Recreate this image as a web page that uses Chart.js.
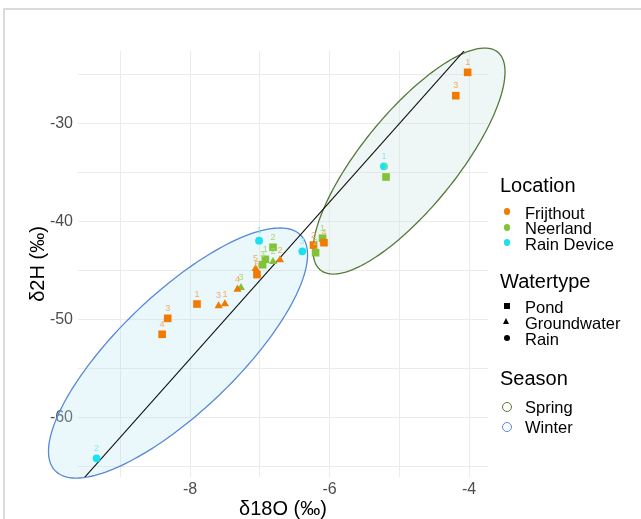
<!DOCTYPE html>
<html>
<head>
<meta charset="utf-8">
<script src="https://cdn.jsdelivr.net/npm/chart.js@4.4.1/dist/chart.umd.min.js"></script>
<style>
  html, body { margin: 0; padding: 0; background: #fff; }
  #wrap { position: relative; width: 641px; height: 519px; overflow: hidden; font-family: "Liberation Sans", Arial, sans-serif; }
  #frame { position: absolute; left: 3px; top: 8px; width: 700px; height: 600px; border-top: 2px solid #dadada; border-left: 2px solid #dadada; }
  #chart { position: absolute; left: 0; top: 0; }
  .lg { position: absolute; white-space: nowrap; color: #000; }
  .lg-title { font-size: 20px; line-height: 20px; left: 500px; }
  .lg-item { font-size: 16.5px; line-height: 16px; left: 525px; }
  .key { position: absolute; box-sizing: border-box; }
</style>
</head>
<body>
<div id="wrap">
  <div id="frame"></div>
  <canvas id="chart" width="641" height="519"></canvas>
  <div id="legend"></div>
</div>
<script>
// Axis ticks
const xGrid = [-9, -8, -7, -6, -5, -4];
const xLabeled = [-8, -6, -4];
const yGrid = [-65, -60, -55, -50, -45, -40, -35, -30, -25];
const yLabeled = [-60, -50, -40, -30];

// Legend categories
const locationNames = ["Frijthout", "Neerland", "Rain Device"];
const locationColors = ["#f27a00", "#82c236", "#19e2ef"];
const labelColors = ["#f3aa66", "#aad573", "#86eaf3"];
const watertypeNames = ["Pond", "Groundwater", "Rain"];
const watertypeShapes = ["rect", "triangle", "circle"];
const seasonNames = ["Spring", "Winter"];
const seasonColors = ["#56793a", "#5787d6"];

// Frijthout
const frijPondX = [-4.02, -4.19, -6.23, -6.08, -7.04, -7.90, -8.32, -8.40];
const frijPondY = [-24.76, -27.14, -42.38, -42.14, -45.39, -48.40, -49.86, -51.49];
const frijPondLab = ["1", "3", "2", "4", "5", "1", "3", "4"];
const frijGwX = [-6.71, -7.06, -7.32, -7.59, -7.50];
const frijGwY = [-43.91, -44.80, -46.90, -48.60, -48.40];
const frijGwLab = ["2", "5", "4", "3", "1"];

// Neerland
const neerPondX = [-5.19, -6.10, -6.20, -6.81, -6.92, -6.96];
const neerPondY = [-35.44, -41.69, -43.16, -42.61, -43.84, -44.39];
const neerPondLab = ["1", "1", "2", "2", "1", "3"];
const neerGwX = [-6.81, -7.27];
const neerGwY = [-44.08, -46.73];
const neerGwLab = ["2", "3"];

// Rain Device
const rainX = [-5.22, -6.39, -7.01, -9.34];
const rainY = [-34.35, -43.02, -41.94, -64.14];
const rainLab = ["1", "3", "1", "2"];

// Meteoric water line endpoints
const lineX = [-9.65, -3.75];
const lineY = [-67.2, -20.0];

// Season ellipses: centre, spread and correlation (data units)
const ellCx = [-4.86, -8.172];
const ellCy = [-33.81, -53.40];
const ellSx = [1.376, 1.857];
const ellSy = [11.53, 12.76];
const ellR = [0.789, 0.786];
const ellFill = ["rgba(200,228,222,0.3)", "rgba(180,230,240,0.28)"];

const FONT = '"Liberation Sans", Arial, sans-serif';

function pts(xs, ys) {
  return xs.map((x, i) => ({ x: x, y: ys[i] }));
}

// series: location index, watertype index, data, labels
const series = [
  { loc: 2, type: 2, data: pts(rainX, rainY), lab: rainLab },
  { loc: 0, type: 0, data: pts(frijPondX, frijPondY), lab: frijPondLab },
  { loc: 0, type: 1, data: pts(frijGwX, frijGwY), lab: frijGwLab },
  { loc: 1, type: 0, data: pts(neerPondX, neerPondY), lab: neerPondLab },
  { loc: 1, type: 1, data: pts(neerGwX, neerGwY), lab: neerGwLab },
];
const radii = { rect: 5.4, triangle: 4.7, circle: 3.9 };

const datasets = series.map((s) => ({
  type: "scatter",
  data: s.data,
  pointStyle: watertypeShapes[s.type],
  pointRadius: radii[watertypeShapes[s.type]],
  backgroundColor: locationColors[s.loc],
  borderColor: locationColors[s.loc],
  borderWidth: 0,
  order: 0,
  labels: s.lab,
  labelColor: labelColors[s.loc],
}));
datasets.push({
  type: "line",
  data: pts(lineX, lineY),
  borderColor: "#111",
  borderWidth: 1.1,
  pointRadius: 0,
  order: 10,
});

const ellipsePlugin = {
  id: "ellipses",
  beforeDatasetsDraw(chart) {
    const { ctx, scales } = chart;
    ctx.save();
    for (let e = 0; e < ellCx.length; e++) {
      ctx.beginPath();
      for (let k = 0; k <= 180; k++) {
        const t = (k / 180) * Math.PI * 2;
        const dx = ellCx[e] + ellSx[e] * Math.cos(t);
        const dy = ellCy[e] + ellSy[e] * (ellR[e] * Math.cos(t) + Math.sqrt(1 - ellR[e] * ellR[e]) * Math.sin(t));
        const px = scales.x.getPixelForValue(dx);
        const py = scales.y.getPixelForValue(dy);
        if (k === 0) ctx.moveTo(px, py); else ctx.lineTo(px, py);
      }
      ctx.closePath();
      ctx.fillStyle = ellFill[e];
      ctx.fill();
      ctx.strokeStyle = seasonColors[e];
      ctx.lineWidth = 1.3;
      ctx.stroke();
    }
    ctx.restore();
  },
};

const labelPlugin = {
  id: "pointLabels",
  afterDatasetsDraw(chart) {
    const ctx = chart.ctx;
    ctx.save();
    ctx.font = "9px " + FONT;
    ctx.textAlign = "center";
    ctx.textBaseline = "middle";
    chart.data.datasets.forEach((ds, i) => {
      if (!ds.labels) return;
      const meta = chart.getDatasetMeta(i);
      ctx.fillStyle = ds.labelColor;
      meta.data.forEach((el, j) => {
        ctx.fillText(ds.labels[j], el.x, el.y - 10);
      });
    });
    ctx.restore();
  },
};

new Chart(document.getElementById("chart"), {
  type: "scatter",
  data: { datasets: datasets },
  options: {
    responsive: false,
    animation: false,
    layout: { padding: { top: 51, right: 153, left: 0, bottom: 0 } },
    plugins: { legend: { display: false }, tooltip: { enabled: false } },
    scales: {
      x: {
        type: "linear",
        min: -9.606,
        max: -3.728,
        afterBuildTicks: (s) => { s.ticks = xGrid.map((v) => ({ value: v })); },
        afterFit: (s) => { s.height = 42; },
        grid: { color: "#ebebeb", lineWidth: 1, drawTicks: false },
        border: { display: false },
        ticks: {
          padding: 3,
          color: "#4d4d4d",
          font: { family: FONT, size: 16 },
          maxRotation: 0,
          autoSkip: false,
          callback: (v) => (xLabeled.includes(v) ? String(v) : ""),
        },
        title: {
          display: true,
          text: "δ18O (‰)",
          color: "#000",
          font: { family: FONT, size: 20, lineHeight: 1 },
          padding: { top: 0, bottom: 0 },
        },
      },
      y: {
        type: "linear",
        min: -66.05,
        max: -22.582,
        afterBuildTicks: (s) => { s.ticks = yGrid.map((v) => ({ value: v })); },
        afterFit: (s) => { s.width = 78; },
        grid: { color: "#ebebeb", lineWidth: 1, drawTicks: false },
        border: { display: false },
        ticks: {
          padding: 5,
          color: "#4d4d4d",
          font: { family: FONT, size: 16 },
          autoSkip: false,
          callback: (v) => (yLabeled.includes(v) ? String(v) : ""),
        },
        title: {
          display: true,
          text: "δ2H (‰)",
          color: "#000",
          font: { family: FONT, size: 20, lineHeight: 1 },
          padding: { top: 28, bottom: 0 },
        },
      },
    },
  },
  plugins: [ellipsePlugin, labelPlugin],
});

// Legend (HTML)
const legend = document.getElementById("legend");
function addText(cls, text, cy, lh) {
  const d = document.createElement("div");
  d.className = "lg " + cls;
  d.textContent = text;
  d.style.top = cy - lh / 2 + "px";
  legend.appendChild(d);
}
function addKey(shape, color, cy, hollow) {
  const k = document.createElement("div");
  k.className = "key";
  const cx = 507;
  if (shape === "triangle") {
    k.style.width = "0";
    k.style.height = "0";
    k.style.borderLeft = "3.8px solid transparent";
    k.style.borderRight = "3.8px solid transparent";
    k.style.borderBottom = "6.5px solid " + color;
    k.style.left = cx - 3.8 + "px";
    k.style.top = cy - 3.6 + "px";
  } else {
    const size = hollow ? 10 : shape === "rect" ? 6 : 6.5;
    k.style.width = size + "px";
    k.style.height = size + "px";
    k.style.left = cx - size / 2 + "px";
    k.style.top = cy - size / 2 + "px";
    if (shape === "circle") k.style.borderRadius = "50%";
    if (hollow) k.style.border = "1.3px solid " + color;
    else k.style.background = color;
  }
  legend.appendChild(k);
}

const locY = [212.5, 228.3, 243.5];
const typeY = [306.5, 323, 339];
const seasonY = [406.5, 426.5];
addText("lg-title", "Location", 185, 20);
locationNames.forEach((n, i) => { addKey("circle", locationColors[i], locY[i] - 1); addText("lg-item", n, locY[i], 16); });
addText("lg-title", "Watertype", 281, 20);
watertypeNames.forEach((n, i) => { addKey(watertypeShapes[i], "#000", typeY[i] - 1); addText("lg-item", n, typeY[i], 16); });
addText("lg-title", "Season", 377.5, 20);
seasonNames.forEach((n, i) => { addKey("circle", seasonColors[i], seasonY[i], true); addText("lg-item", n, seasonY[i], 16); });
</script>
</body>
</html>
